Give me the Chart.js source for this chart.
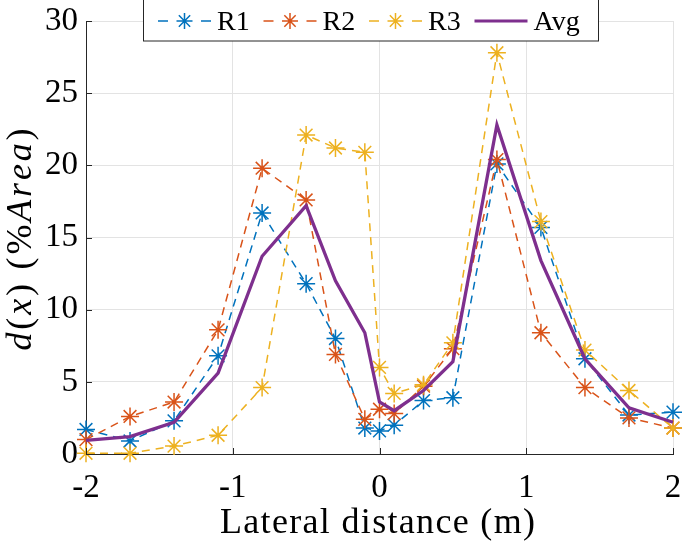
<!DOCTYPE html>
<html>
<head>
<meta charset="utf-8">
<script src="https://cdn.jsdelivr.net/npm/chart.js@4/dist/chart.umd.min.js"></script>
<style>
html,body{margin:0;padding:0;background:#fff;}
#wrap{width:685px;height:544px;position:relative;}
</style>
</head>
<body>
<div id="wrap"><canvas id="c" width="685" height="544"></canvas></div>
<script>
const xPositions = [-2, -1.7, -1.4, -1.1, -0.8, -0.5, -0.3, -0.1, 0, 0.1, 0.3, 0.5, 0.8, 1.1, 1.4, 1.7, 2];
const r1Values  = [1.7, 0.9, 2.3, 6.8, 16.7, 11.8, 8.0, 1.8, 1.6, 2.0, 3.7, 3.9, 20.1, 15.7, 6.6, 2.7, 2.9];
const r2Values  = [1.0, 2.6, 3.6, 8.6, 19.8, 17.6, 6.9, 2.4, 3.1, 2.8, 4.7, 7.3, 20.4, 8.4, 4.6, 2.5, 1.8];
const r3Values  = [0.05, 0.05, 0.55, 1.3, 4.6, 22.1, 21.2, 20.9, 6.0, 4.2, 4.8, 7.7, 27.8, 16.1, 7.2, 4.4, 1.8];
const avgValues = [0.95, 1.2, 2.2, 5.6, 13.7, 17.2, 12.0, 8.4, 3.6, 3.0, 4.4, 6.4, 22.8, 13.4, 6.6, 3.2, 2.2];
const seriesNames = ['R1', 'R2', 'R3', 'Avg'];
const xTicks = [-2, -1, 0, 1, 2];
const yTicks = [0, 5, 10, 15, 20, 25, 30];
const xTitle = 'Lateral distance (m)';
// y title: [text, italic?]
const yTitleParts = [['d',1],['(',0],['x',1],[')',0],[' ',0],['(',0],['%',0],['A',1],['r',1],['e',1],['a',1],[')',0]];

const colors = ['#0072BD', '#D95319', '#EDB120', '#7E2F8E'];
const FONT = '"Liberation Serif", "Times New Roman", serif';
const AXIS = '#262626';

function pts(vals){ return xPositions.map((x,i)=>({x:x, y:vals[i]})); }

function drawStar(ctx, x, y, r, color){
  ctx.save();
  ctx.strokeStyle = color; ctx.lineWidth = 1.5; ctx.setLineDash([]);
  ctx.beginPath();
  for (let k=0;k<4;k++){
    const a = k*Math.PI/4;
    ctx.moveTo(x - r*Math.cos(a), y - r*Math.sin(a));
    ctx.lineTo(x + r*Math.cos(a), y + r*Math.sin(a));
  }
  ctx.stroke();
  ctx.restore();
}

// draw a run of characters spread over a target width
function drawSpread(ctx, parts, startX, baseY, targetW, size){
  const fontFor = it => (it ? 'italic ' : '') + size + 'px ' + FONT;
  let natural = 0;
  parts.forEach(p=>{ ctx.font = fontFor(p[1]); natural += ctx.measureText(p[0]).width; });
  const gap = Math.max(0, (targetW - natural) / (parts.length - 1));
  let x = startX;
  parts.forEach(p=>{
    ctx.font = fontFor(p[1]);
    ctx.fillText(p[0], x, baseY);
    x += ctx.measureText(p[0]).width + gap;
  });
}

const titlePlugin = {
  id: 'titles',
  afterDraw(chart){
    const ctx = chart.ctx;
    ctx.save();
    ctx.fillStyle = '#000';
    ctx.textBaseline = 'alphabetic';
    ctx.textAlign = 'left';
    const a = chart.chartArea;
    const xw = 315;
    const xc = (a.left + a.right)/2 - 2;
    drawSpread(ctx, xTitle.split('').map(c=>[c,0]), xc - xw/2, 533, xw, 36);
    const yw = 222;
    const yc = (a.top + a.bottom)/2 + 2;
    ctx.translate(31, yc);
    ctx.rotate(-Math.PI/2);
    drawSpread(ctx, yTitleParts, -yw/2, 0, yw, 36);
    ctx.restore();
  }
};

const legendPlugin = {
  id: 'matlabLegend',
  afterDraw(chart){
    const ctx = chart.ctx;
    ctx.save();
    const left = 143.5, top = -0.5, w = 455, h = 41.5;
    ctx.fillStyle = '#fff';
    ctx.fillRect(left, top, w, h);
    ctx.strokeStyle = AXIS; ctx.lineWidth = 1;
    ctx.strokeRect(left, top, w, h);
    ctx.textBaseline = 'alphabetic';
    ctx.textAlign = 'left';
    ctx.font = '28px ' + FONT;
    const yLine = 21, sample = 53, pitch = 105.5;
    seriesNames.forEach((name, i)=>{
      const x = 158 + i*pitch;
      ctx.strokeStyle = colors[i];
      if (i < 3){
        ctx.lineWidth = 1.5;
        ctx.beginPath();
        ctx.moveTo(x, yLine); ctx.lineTo(x+10, yLine);
        ctx.moveTo(x+sample-10, yLine); ctx.lineTo(x+sample, yLine);
        ctx.stroke();
        drawStar(ctx, x+sample/2, yLine, 8, colors[i]);
      } else {
        ctx.lineWidth = 3;
        ctx.beginPath();
        ctx.moveTo(x, yLine); ctx.lineTo(x+sample, yLine);
        ctx.stroke();
      }
      ctx.fillStyle = '#000';
      ctx.fillText(name, x+sample+6, 30);
    });
    ctx.restore();
  }
};

const tickPlugin = {
  id: 'inwardTicks',
  afterDatasetsDraw(chart){
    const ctx = chart.ctx, xs = chart.scales.x, ys = chart.scales.y, a = chart.chartArea;
    ctx.save();
    ctx.strokeStyle = AXIS; ctx.lineWidth = 1;
    ctx.beginPath();
    yTicks.forEach(v=>{ const py = Math.round(ys.getPixelForValue(v))+0.5; ctx.moveTo(a.left, py); ctx.lineTo(a.left+6, py); });
    xTicks.forEach(v=>{ const px = Math.round(xs.getPixelForValue(v))+0.5; ctx.moveTo(px, a.bottom); ctx.lineTo(px, a.bottom-6); });
    ctx.stroke();
    ctx.restore();
  }
};

const dsCommon = (i, vals) => ({
  label: seriesNames[i],
  data: pts(vals),
  borderColor: colors[i],
  backgroundColor: colors[i],
  borderWidth: 1.5,
  borderDash: [8, 6],
  pointStyle: 'star',
  pointRadius: 9,
  pointBorderWidth: 1.5,
  pointBorderColor: colors[i],
  pointHoverRadius: 9,
  clip: false,
  tension: 0,
  order: 4 - i
});

new Chart(document.getElementById('c'), {
  type: 'line',
  data: {
    datasets: [
      dsCommon(0, r1Values),
      dsCommon(1, r2Values),
      dsCommon(2, r3Values),
      {
        label: seriesNames[3],
        data: pts(avgValues),
        borderColor: colors[3],
        backgroundColor: colors[3],
        borderWidth: 3.3,
        pointRadius: 0,
        tension: 0,
        clip: false,
        order: 0
      }
    ]
  },
  options: {
    responsive: false,
    animation: false,
    events: [],
    layout: { padding: { top: 21, right: 12, left: 0, bottom: 0 } },
    plugins: { legend: { display: false }, tooltip: { enabled: false } },
    scales: {
      x: {
        type: 'linear', min: -2, max: 2,
        afterBuildTicks(s){ s.ticks = xTicks.map(v=>({value:v})); },
        afterFit(s){ s.height = 90; s.paddingLeft = 0; s.paddingRight = 0; },
        grid: { color: '#e3e3e3', drawTicks: false, lineWidth: 1 },
        border: { display: true, color: AXIS, width: 1 },
        ticks: { color: '#000', font: { family: FONT, size: 33 }, padding: 15, maxRotation: 0, autoSkip: false },
        title: { display: false }
      },
      y: {
        type: 'linear', min: 0, max: 30,
        afterBuildTicks(s){ s.ticks = yTicks.map(v=>({value:v})); },
        afterFit(s){ s.width = 86; s.paddingTop = 0; s.paddingBottom = 0; },
        grid: { color: '#e3e3e3', drawTicks: false, lineWidth: 1 },
        border: { display: true, color: AXIS, width: 1 },
        ticks: { color: '#000', font: { family: FONT, size: 33 }, padding: 8, autoSkip: false },
        title: { display: false }
      }
    }
  },
  plugins: [tickPlugin, legendPlugin, titlePlugin]
});
</script>
</body>
</html>
